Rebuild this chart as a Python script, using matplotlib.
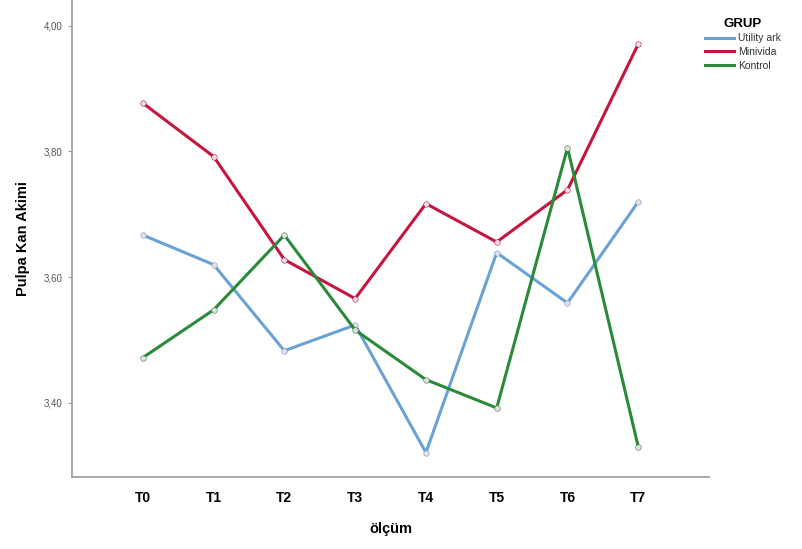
import numpy as np
import matplotlib.pyplot as plt

plt.rcParams['font.family'] = ['Liberation Sans', 'DejaVu Sans']

# -- data
olcum = ['T0', 'T1', 'T2', 'T3', 'T4', 'T5', 'T6', 'T7']
utility_ark = [3.667, 3.620, 3.483, 3.524, 3.321, 3.639, 3.559, 3.720]
minivida = [3.877, 3.792, 3.628, 3.566, 3.717, 3.656, 3.739, 3.971]
kontrol = [3.472, 3.548, 3.667, 3.516, 3.437, 3.392, 3.806, 3.330]

groups = ['Utility ark', 'Minivida', 'Kontrol']
colors = ['#6aa2d6', '#c5163f', '#2b8a3a']
y_ticks = [3.40, 3.60, 3.80, 4.00]

fig = plt.figure(figsize=(8.03, 5.49), dpi=100)
ax = fig.add_axes([0.0897, 0.131, 0.7933, 0.869])

x = np.arange(len(olcum))
for name, vals, c in zip(groups, [utility_ark, minivida, kontrol], colors):
    ax.plot(x, vals, color=c, lw=2.2, label=name,
            marker='o', ms=4, mfc='#e8dde3', mec=c, mew=0.4)

ax.set_xlim(-1, 8)
ax.set_ylim(3.282, 4.041)
ax.set_xticks(x)
ax.set_xticklabels(olcum, fontsize=10, fontweight='bold')
ax.set_yticks(y_ticks)
ax.set_yticklabels([f'{v:.2f}'.replace('.', ',') for v in y_ticks],
                   fontsize=7, color='#555555')
ax.tick_params(axis='x', length=0, pad=10)
ax.tick_params(axis='y', length=3, color='#999999', pad=4)

for s in ['top', 'right']:
    ax.spines[s].set_visible(False)
for s in ['left', 'bottom']:
    ax.spines[s].set_color('#999999')
    ax.spines[s].set_linewidth(1.2)

ax.set_xlabel('ölçüm', fontsize=10.5, fontweight='bold', labelpad=12)
ax.set_ylabel('Pulpa Kan Akimi', fontsize=10.5, fontweight='bold', labelpad=10)

leg = fig.legend(loc='upper left', bbox_to_anchor=(0.866, 0.985),
                 frameon=False, fontsize=7.5, title='GRUP',
                 handlelength=2.8, handletextpad=0.4, labelspacing=0.35)
leg.get_title().set_fontweight('bold')
leg.get_title().set_fontsize(9.5)
for t in leg.get_texts():
    t.set_color('#333333')
for line in leg.get_lines():
    line.set_marker('')
    line.set_linewidth(2.2)

fig.savefig('out.png', dpi=100)
